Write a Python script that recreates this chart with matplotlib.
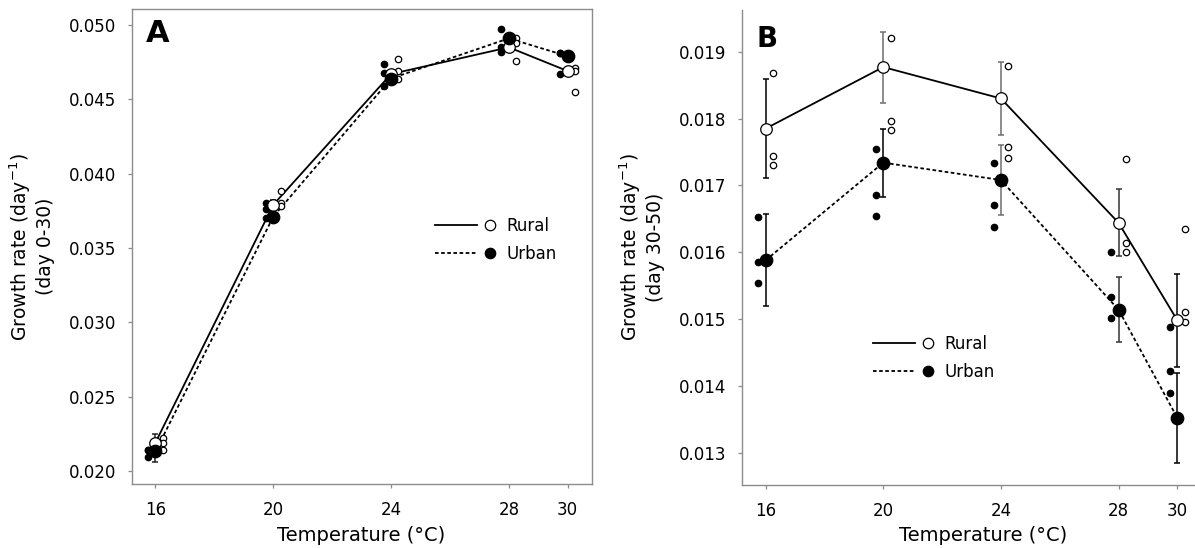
import matplotlib
matplotlib.use("Agg")
import matplotlib.pyplot as plt
from matplotlib.lines import Line2D
from matplotlib.legend_handler import HandlerBase
import numpy as np

plt.rcParams['font.family'] = ['DejaVu Sans']
plt.rcParams['mathtext.fontset'] = 'dejavusans'

# ---------------- data ----------------
temps = [16, 20, 24, 28, 30]
xtick_labels = ['16', '20', '24', '28', '30']

# Panel A: growth rate day 0-30
rural_mean_A = [0.0219, 0.0379, 0.0467, 0.0485, 0.0469]
rural_err_A = [0.0006, 0.0003, 0.0003, 0.0003, 0.0003]
urban_mean_A = [0.0213, 0.0371, 0.0464, 0.0491, 0.0479]
urban_err_A = [0.0007, 0.0003, 0.0003, 0.0003, 0.0003]
rural_pts_A = [[0.0222, 0.0219, 0.0214],
               [0.0388, 0.0380, 0.0378],
               [0.0477, 0.0469, 0.0464],
               [0.0491, 0.0488, 0.0476],
               [0.0471, 0.0469, 0.0455]]
urban_pts_A = [[0.0214, 0.0214, 0.0209],
               [0.0380, 0.0376, 0.0370],
               [0.0474, 0.0468, 0.0459],
               [0.0497, 0.0485, 0.0482],
               [0.0481, 0.0481, 0.0467]]
yticks_A = [0.020, 0.025, 0.030, 0.035, 0.040, 0.045, 0.050]

# Panel B: growth rate day 30-50
rural_mean_B = [0.01785, 0.01877, 0.01830, 0.01644, 0.01498]
rural_err_B = [0.00074, 0.00053, 0.00054, 0.00050, 0.00070]
urban_mean_B = [0.01588, 0.01734, 0.01708, 0.01514, 0.01352]
urban_err_B = [0.00069, 0.00051, 0.00052, 0.00049, 0.00068]
rural_pts_B = [[0.01868, 0.01744, 0.01730],
               [0.01920, 0.01796, 0.01783],
               [0.01878, 0.01757, 0.01741],
               [0.01739, 0.01614, 0.01601],
               [0.01634, 0.01510, 0.01496]]
urban_pts_B = [[0.01653, 0.01586, 0.01554],
               [0.01754, 0.01686, 0.01654],
               [0.01733, 0.01670, 0.01637],
               [0.01601, 0.01533, 0.01502],
               [0.01488, 0.01422, 0.01389]]
yticks_B = [0.013, 0.014, 0.015, 0.016, 0.017, 0.018, 0.019]

# ---------------- style ----------------
SPINE = '#8c8c8c'
DOT = (0, (2, 1.4))
OFF = 0.25  # horizontal offset of individual points


class LM:
    def __init__(self, ls, mfc):
        self.ls = ls
        self.mfc = mfc


class HandlerLM(HandlerBase):
    def create_artists(self, legend, orig_handle, xdescent, ydescent,
                       width, height, fontsize, trans):
        y = height / 2 - ydescent
        x0 = -xdescent
        ln = Line2D([x0, x0 + 0.68 * width], [y, y], color='black', lw=1.3,
                    linestyle=orig_handle.ls)
        mk = Line2D([x0 + 0.89 * width], [y], marker='o', ms=7.5,
                    mfc=orig_handle.mfc, mec='black', mew=0.9, linestyle='none')
        ln.set_transform(trans)
        mk.set_transform(trans)
        return [ln, mk]


def draw_panel(ax, rm, re, um, ue, rp, up, rcol, ucol):
    t = np.array(temps, dtype=float)
    ax.plot(t, rm, color='black', lw=1.3, ls='-', zorder=2)
    ax.plot(t, um, color='black', lw=1.3, ls=DOT, zorder=2)
    for i in range(len(t)):
        ax.errorbar(t[i], rm[i], yerr=re[i], fmt='none', ecolor=rcol[i],
                    elinewidth=1.1, capsize=2.5, capthick=1.1, zorder=3)
        ax.errorbar(t[i], um[i], yerr=ue[i], fmt='none', ecolor=ucol[i],
                    elinewidth=1.1, capsize=2.5, capthick=1.1, zorder=3)
        ax.plot([t[i] + OFF] * len(rp[i]), rp[i], 'o', ms=4.6, mfc='white',
                mec='black', mew=0.9, ls='none', zorder=4)
        ax.plot([t[i] - OFF] * len(up[i]), up[i], 'o', ms=4.6, mfc='black',
                mec='black', mew=0.9, ls='none', zorder=4)
    ax.plot(t, rm, 'o', ms=8.3, mfc='white', mec='black', mew=0.9,
            ls='none', zorder=5)
    ax.plot(t, um, 'o', ms=9.0, mfc='black', mec='black', mew=0.9,
            ls='none', zorder=6)
    ax.set_xticks(temps)
    ax.set_xticklabels(xtick_labels)
    ax.tick_params(axis='both', direction='out', length=3, width=0.9,
                   color=SPINE, labelsize=12, labelcolor='black')
    ax.tick_params(axis='x', pad=9)
    ax.tick_params(axis='y', pad=8)
    for s in ax.spines.values():
        s.set_color(SPINE)
        s.set_linewidth(1.0)
    ax.set_xlabel('Temperature (\u00b0C)', fontsize=14, labelpad=5)


fig = plt.figure(figsize=(11.95, 5.48), dpi=100)
W, H = 1195.0, 548.0

# Panel A
axA = fig.add_axes([131.5 / W, (H - 484) / H, (591.7 - 131.5) / W, (484 - 9.3) / H])
draw_panel(axA, rural_mean_A, rural_err_A, urban_mean_A, urban_err_A,
           rural_pts_A, urban_pts_A,
           ['#222222'] * 5, ['#222222'] * 5)
axA.set_xlim(15.185, 30.815)
axA.set_ylim(0.019112, 0.051057)
axA.set_yticks(yticks_A)
axA.set_yticklabels(['%.3f' % v for v in yticks_A])
axA.set_ylabel('Growth rate (day$^{-1}$)\n(day 0-30)', fontsize=13.5, labelpad=10)
axA.text(0.032, 0.931, 'A', transform=axA.transAxes, fontsize=22,
         fontweight='heavy', ha='left', va='baseline')
axA.legend([LM('-', 'white'), LM(DOT, 'black')], ['Rural', 'Urban'],
           handler_map={LM: HandlerLM()}, frameon=False, loc='center left',
           bbox_to_anchor=(0.6595, 0.514), borderpad=0, borderaxespad=0,
           handlelength=3.72, handletextpad=0.55, labelspacing=0.58,
           fontsize=12)

# Panel B
axB = fig.add_axes([741.5 / W, (H - 485) / H, (1195 - 741.5) / W, (485 - 10) / H])
draw_panel(axB, rural_mean_B, rural_err_B, urban_mean_B, urban_err_B,
           rural_pts_B, urban_pts_B,
           ['black', '#6e6e6e', '#6e6e6e', '#333333', 'black'],
           ['black', 'black', '#6e6e6e', '#333333', 'black'])
axB.set_xlim(15.177, 30.6)
axB.set_ylim(0.012517, 0.019624)
axB.set_yticks(yticks_B)
axB.set_yticklabels(['%.3f' % v for v in yticks_B])
axB.spines['top'].set_visible(False)
axB.spines['right'].set_visible(False)
axB.set_ylabel('Growth rate (day$^{-1}$)\n(day 30-50)', fontsize=13.5, labelpad=10)
axB.xaxis.set_label_coords(0.5325, -0.087)
axB.text(0.034, 0.922, 'B', transform=axB.transAxes, fontsize=20,
         fontweight='heavy', ha='left', va='baseline')
axB.legend([LM('-', 'white'), LM(DOT, 'black')], ['Rural', 'Urban'],
           handler_map={LM: HandlerLM()}, frameon=False, loc='center left',
           bbox_to_anchor=(0.29, 0.2674), borderpad=0, borderaxespad=0,
           handlelength=3.72, handletextpad=0.55, labelspacing=0.58,
           fontsize=12)

fig.savefig('out.png', dpi=100)
